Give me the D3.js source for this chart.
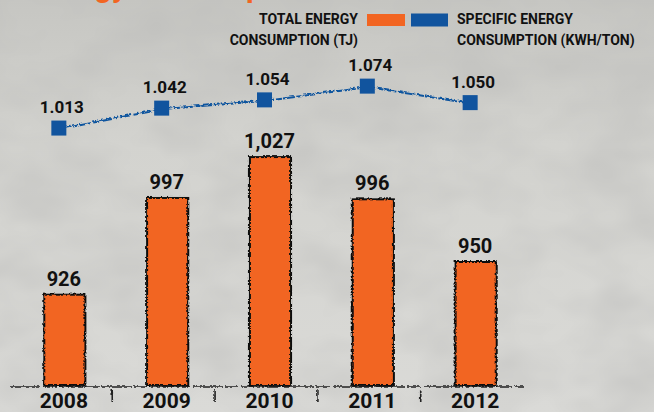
<!DOCTYPE html>
<html>
<head>
<meta charset="utf-8">
<script src="https://cdn.jsdelivr.net/npm/d3@7"></script>
<style>
  html, body { margin: 0; padding: 0; background: #d6d6d2; }
  svg { display: block; }
  text { font-family: Roboto, 'DejaVu Sans', sans-serif; font-weight: 700; fill: #111; }
</style>
</head>
<body>
<script>
// data
const years = ['2008', '2009', '2010', '2011', '2012'];
const totalEnergy = [926, 997, 1027, 996, 950]; // TJ
const specificEnergy = [1.013, 1.042, 1.054, 1.074, 1.05]; // kWh/ton

const legendLeft = ['TOTAL ENERGY', 'CONSUMPTION (TJ)'];
const legendRight = ['SPECIFIC ENERGY', 'CONSUMPTION (KWH/TON)'];

const width = 654, height = 412;
const orange = '#f26522', blue = '#11549e';

let svg = d3.select('body').append('svg').attr('width', width).attr('height', height);
let defs = svg.append('defs');

// background: grey paper with a little mottling
let grad = defs.append('linearGradient').attr('id', 'bg').attr('x1', 0).attr('y1', 0).attr('x2', 0).attr('y2', 1);
grad.append('stop').attr('offset', '0%').attr('stop-color', '#c6c6c2');
grad.append('stop').attr('offset', '35%').attr('stop-color', '#d3d3cf');
grad.append('stop').attr('offset', '100%').attr('stop-color', '#dadad7');

let mottle = defs.append('filter').attr('id', 'mottle').attr('x', 0).attr('y', 0).attr('width', 1).attr('height', 1);
mottle.append('feTurbulence').attr('type', 'fractalNoise').attr('baseFrequency', '0.012 0.02').attr('numOctaves', 3).attr('seed', 4);
mottle.append('feColorMatrix').attr('values', '0 0 0 0 0.5  0 0 0 0 0.5  0 0 0 0 0.49  0 0 0 0.9 -0.28');

let rough = defs.append('filter').attr('id', 'rough');
rough.append('feTurbulence').attr('type', 'turbulence').attr('baseFrequency', 0.3).attr('numOctaves', 1).attr('seed', 2).attr('result', 'n');
rough.append('feDisplacementMap').attr('in', 'SourceGraphic').attr('in2', 'n').attr('scale', 1.6);

svg.append('rect').attr('width', width).attr('height', height).attr('fill', 'url(#bg)');
svg.append('rect').attr('width', width).attr('height', height).attr('filter', 'url(#mottle)');

// title, mostly cropped off the top edge as in the source
svg.append('text').attr('x', 34).attr('y', -3).style('font-size', '30px').style('fill', orange)
  .text('Energy Consumption');

// scales
let x = d3.scaleBand().domain(years).range([33, 506]).paddingInner(0.6).paddingOuter(0.1);
let yBar = d3.scaleLinear([859, 1030], [385, 152]);
let yLine = d3.scaleLinear([1.0, 1.08], [137, 82]);
let cx = (d) => x(d) + x.bandwidth() / 2;

// bars
svg.append('g').attr('filter', 'url(#rough)')
  .selectAll('rect').data(totalEnergy).enter().append('rect')
  .attr('x', (d, i) => x(years[i]))
  .attr('y', (d) => yBar(d))
  .attr('width', x.bandwidth())
  .attr('height', (d) => yBar.range()[0] - yBar(d))
  .attr('fill', orange).attr('stroke', '#111').attr('stroke-width', 2);

svg.append('g').selectAll('text').data(totalEnergy).enter().append('text')
  .attr('x', (d, i) => cx(years[i]))
  .attr('y', (d) => yBar(d) - 8)
  .attr('text-anchor', 'middle').style('font-size', '20px')
  .text(d3.format(','));

// baseline axis with ticks between the bars
let step = x.step();
let axis = svg.append('g').attr('filter', 'url(#rough)');
axis.append('line').attr('x1', 10).attr('x2', 523).attr('y1', 386).attr('y2', 386)
  .attr('stroke', '#222').attr('stroke-width', 1.6).attr('stroke-dasharray', '30 2 14 3 40 2');
axis.selectAll('.tick').data(years.slice(0, -1)).enter().append('line')
  .attr('x1', (d) => x(d) + x.bandwidth() + (step - x.bandwidth()) / 2 - 4)
  .attr('x2', (d) => x(d) + x.bandwidth() + (step - x.bandwidth()) / 2 - 4)
  .attr('y1', 389).attr('y2', 401)
  .attr('stroke', '#222').attr('stroke-width', 1.6);

svg.append('g').selectAll('text').data(years).enter().append('text')
  .attr('x', (d) => cx(d)).attr('y', 408)
  .attr('text-anchor', 'middle').style('font-size', '21px')
  .text((d) => d);

// specific energy line
let lx = (d, i) => cx(years[i]) - 5;
let line = d3.line().x(lx).y((d) => yLine(d));

svg.append('path').datum(specificEnergy)
  .attr('d', line).attr('fill', 'none')
  .attr('stroke', blue).attr('stroke-width', 2).attr('stroke-dasharray', '12 1.5 6 1')
  .attr('filter', 'url(#rough)');

svg.append('g').selectAll('rect').data(specificEnergy).enter().append('rect')
  .attr('x', (d, i) => lx(d, i) - 7.5).attr('y', (d) => yLine(d) - 7.5)
  .attr('width', 15).attr('height', 15).attr('fill', blue);

svg.append('g').selectAll('text').data(specificEnergy).enter().append('text')
  .attr('x', (d, i) => lx(d, i) + 3).attr('y', (d) => yLine(d) - 15)
  .attr('text-anchor', 'middle').style('font-size', '17px')
  .text(d3.format('.3f'));

// legend
svg.append('rect').attr('x', 367).attr('y', 14).attr('width', 38).attr('height', 12).attr('fill', orange);
svg.append('rect').attr('x', 411).attr('y', 13.5).attr('width', 37).attr('height', 13).attr('fill', blue);

svg.append('g').selectAll('text').data(legendLeft).enter().append('text')
  .attr('x', 358).attr('y', (d, i) => 24 + i * 20.5)
  .attr('text-anchor', 'end').style('font-size', '14px')
  .text((d) => d);

svg.append('g').selectAll('text').data(legendRight).enter().append('text')
  .attr('x', 457).attr('y', (d, i) => 24 + i * 20.5)
  .style('font-size', '14px')
  .text((d) => d);
</script>
</body>
</html>
